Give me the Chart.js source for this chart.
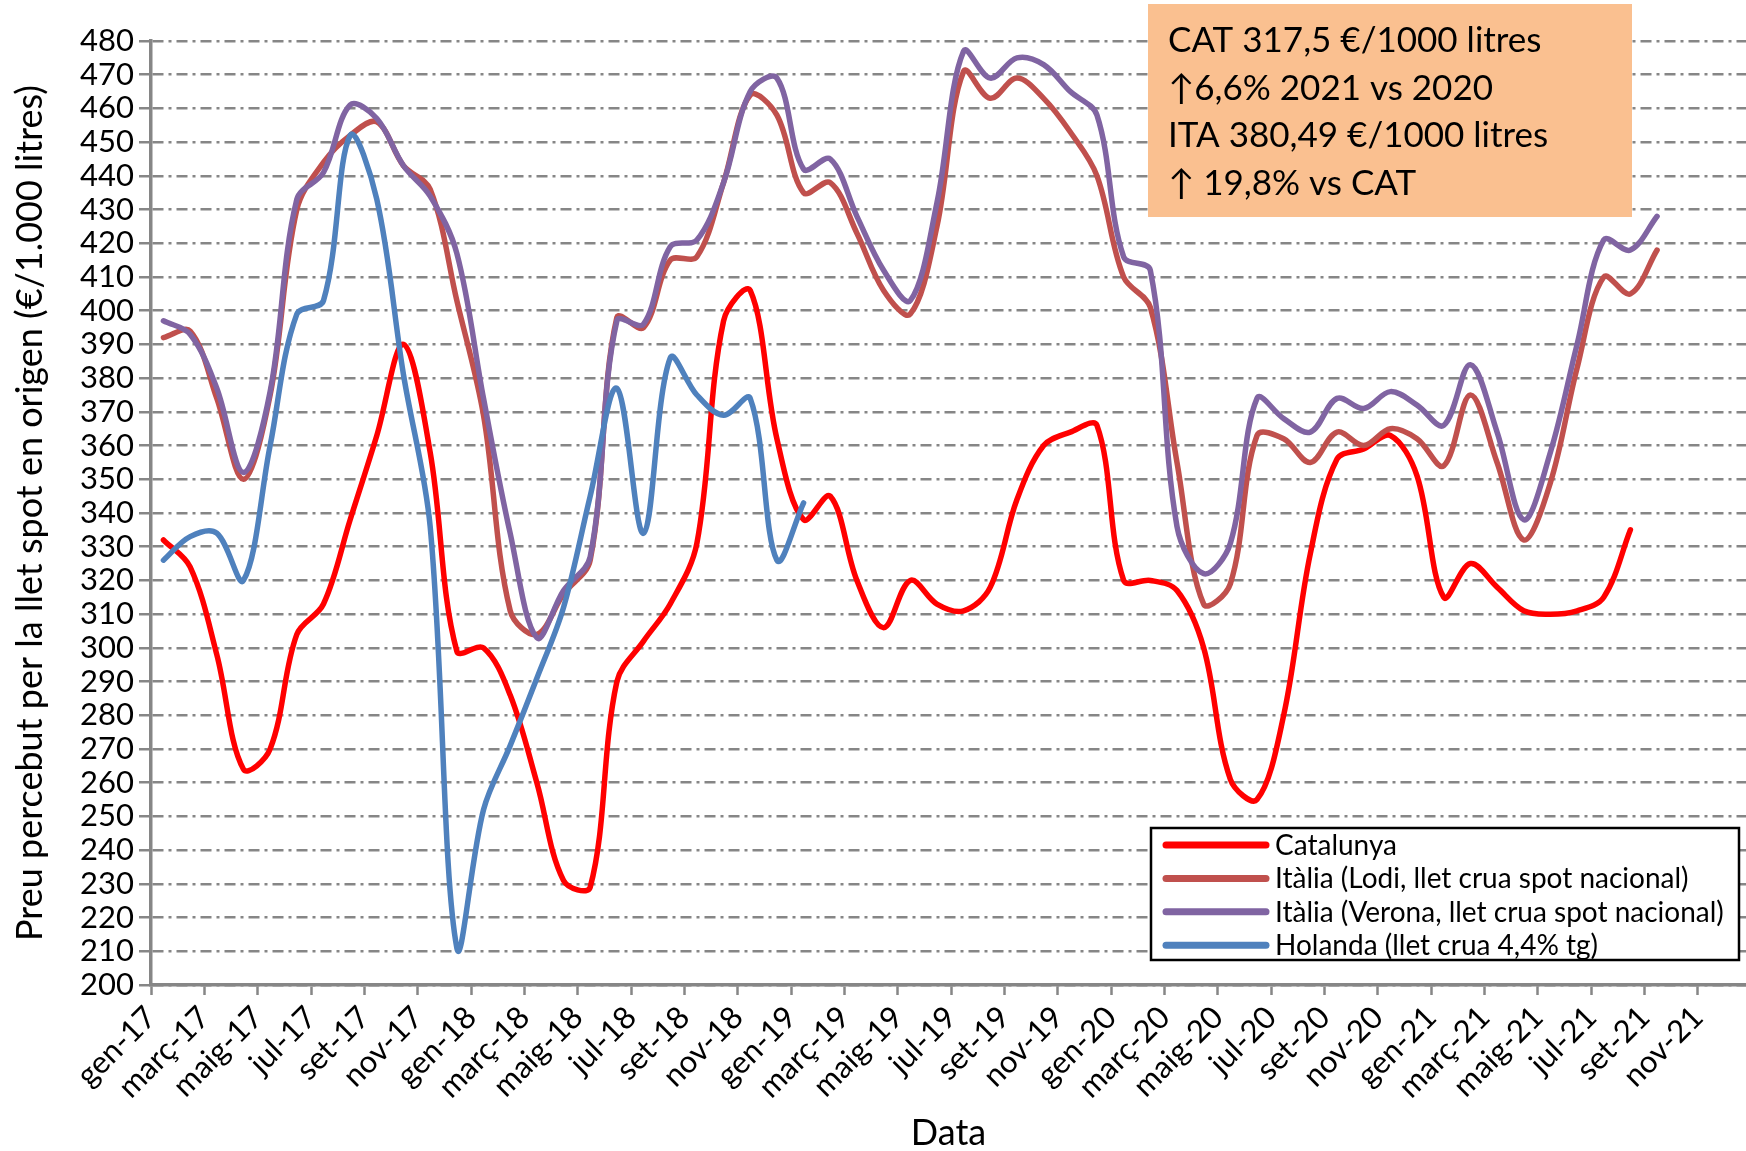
<!DOCTYPE html>
<html>
<head>
<meta charset="utf-8">
<script src="https://cdn.jsdelivr.net/npm/chart.js@4.4.1/dist/chart.umd.min.js"></script>
<style>
html,body{margin:0;padding:0;background:#ffffff;}
canvas{display:block;}
</style>
</head>
<body>
<canvas id="c" width="1746" height="1151"></canvas>
<script>
// ---- categories (one per month, gen-17 .. set-21) ----
const monthLabels = [
  'gen-17','febr-17','març-17','abr-17','maig-17','juny-17','jul-17','ag-17','set-17','oct-17','nov-17','des-17',
  'gen-18','febr-18','març-18','abr-18','maig-18','juny-18','jul-18','ag-18','set-18','oct-18','nov-18','des-18',
  'gen-19','febr-19','març-19','abr-19','maig-19','juny-19','jul-19','ag-19','set-19','oct-19','nov-19','des-19',
  'gen-20','febr-20','març-20','abr-20','maig-20','juny-20','jul-20','ag-20','set-20','oct-20','nov-20','des-20',
  'gen-21','febr-21','març-21','abr-21','maig-21','juny-21','jul-21','ag-21','set-21'
];

// ---- axis tick labels (every two months) ----
const tickLabels = [
  'gen-17','març-17','maig-17','jul-17','set-17','nov-17',
  'gen-18','març-18','maig-18','jul-18','set-18','nov-18',
  'gen-19','març-19','maig-19','jul-19','set-19','nov-19',
  'gen-20','març-20','maig-20','jul-20','set-20','nov-20',
  'gen-21','març-21','maig-21','jul-21','set-21','nov-21'
];

// ---- series values (€/1000 litres) ----
const catalunya = [332,324,298,264,270,304,313,338,363,390,
                   358,299,300,286,260,231,229,290,302,313,
                   331,397,406,362,338,345,320,306,320,313,
                   311,318,344,360,364,366,320,320,317,300,
                   261,255,280,328,356,359,363,351,315,325,
                   318,311,310,311,315,335];
const italiaLodi = [392,394,374,350,375,430,444,452,456,443,
                    436,403,369,311,304,316,326,398,395,415,
                    416,438,464,458,435,438,423,406,399,425,
                    471,463,469,463,453,440,410,401,355,313,
                    319,363,362,355,364,360,365,362,354,375,
                    355,332,349,383,410,405,418];
const italiaVerona = [397,393,377,352,376,433,441,461,457,443,
                      434,417,374,334,303,317,327,397,396,419,
                      421,438,465,469,442,445,428,412,403,432,
                      477,469,475,473,465,458,416,412,336,322,
                      331,374,368,364,374,371,376,372,366,384,
                      364,338,358,390,421,418,428];
const holanda = [326,333,334,320,360,399,403,452,433,381,
                 336,211,252,271,291,312,345,377,334,386,
                 375,369,374,326,343];

const seriesNames = [
  'Catalunya',
  'Itàlia (Lodi, llet crua spot nacional)',
  'Itàlia (Verona, llet crua spot nacional)',
  'Holanda (llet crua 4,4% tg)'
];
const noteLines = [
  'CAT 317,5 €/1000 litres',
  '↑6,6% 2021 vs 2020',
  'ITA 380,49 €/1000 litres',
  '↑ 19,8% vs CAT'
];

// each monthly value sits at mid-month on a month-index axis (gen-17 = 0)
const MID = 14 / 30;
function toPoints(values) {
  return values.map((v, i) => ({ x: monthLabels.indexOf(monthLabels[i]) + MID, y: v }));
}

const FONT = 'Lato, Carlito, "Open Sans", sans-serif';
const GRID = '#868686';

const boxLegend = {
  id: 'boxLegend',
  afterDraw(chart, args, o) {
    const ctx = chart.ctx;
    ctx.save();
    ctx.fillStyle = '#ffffff';
    ctx.fillRect(o.x, o.y, o.w, o.h);
    ctx.lineWidth = 2.5;
    ctx.strokeStyle = '#000000';
    ctx.strokeRect(o.x, o.y, o.w, o.h);
    ctx.font = o.fontSize + 'px ' + FONT;
    ctx.textBaseline = 'middle';
    ctx.textAlign = 'left';
    chart.data.datasets.forEach((ds, i) => {
      const cy = o.y + o.first + i * o.gap;
      ctx.beginPath();
      ctx.strokeStyle = ds.borderColor;
      ctx.lineWidth = 7;
      ctx.lineCap = 'round';
      ctx.moveTo(o.x + o.lineStart, cy);
      ctx.lineTo(o.x + o.lineEnd, cy);
      ctx.stroke();
      ctx.fillStyle = '#000000';
      ctx.fillText(ds.label, o.x + o.textX, cy + 1);
    });
    ctx.restore();
  }
};

const noteBox = {
  id: 'noteBox',
  afterDraw(chart, args, o) {
    const ctx = chart.ctx;
    ctx.save();
    ctx.fillStyle = o.fill;
    ctx.fillRect(o.x, o.y, o.w, o.h);
    ctx.fillStyle = '#000000';
    ctx.font = o.fontSize + 'px ' + FONT;
    ctx.textBaseline = 'middle';
    ctx.textAlign = 'left';
    noteLines.forEach((t, i) => ctx.fillText(t, o.x + o.padX, o.y + o.first + i * o.gap));
    ctx.restore();
  }
};

const colors = ['#FF0000', '#C0504D', '#8064A2', '#4F81BD'];
const values = [catalunya, italiaLodi, italiaVerona, holanda];

new Chart(document.getElementById('c'), {
  type: 'line',
  data: {
    datasets: values.map((vals, i) => ({
      label: seriesNames[i],
      data: toPoints(vals),
      borderColor: colors[i],
      backgroundColor: colors[i],
      borderWidth: 5.5,
      pointRadius: 0,
      pointHoverRadius: 0,
      tension: 0.35,
      fill: false,
      borderCapStyle: 'round',
      borderJoinStyle: 'round',
      order: 4 - i
    }))
  },
  options: {
    responsive: false,
    devicePixelRatio: 1,
    animation: false,
    events: [],
    layout: { padding: { top: 41, right: 0, bottom: 0, left: 0 } },
    plugins: {
      legend: { display: false },
      tooltip: { enabled: false },
      boxLegend: { x: 1151, y: 828, w: 588, h: 132, first: 17, gap: 33.4, lineStart: 15, lineEnd: 115, textX: 124, fontSize: 28 },
      noteBox: { x: 1148, y: 4, w: 484, h: 213, fill: '#FAC090', padX: 20, first: 37, gap: 47.5, fontSize: 35 }
    },
    scales: {
      x: {
        type: 'linear',
        min: 0,
        max: 59.8,
        afterBuildTicks: (axis) => { axis.ticks = tickLabels.map((_, i) => ({ value: i * 2 })); },
        afterFit: (s) => { s.height = 166; s.paddingLeft = 0; s.paddingRight = 0; },
        ticks: {
          autoSkip: false,
          minRotation: 45,
          maxRotation: 45,
          padding: 4,
          color: '#000000',
          font: { family: FONT, size: 31 },
          callback: (v) => tickLabels[Math.round(v / 2)]
        },
        grid: { display: true, drawOnChartArea: false, drawTicks: true, tickLength: 10, tickColor: GRID, tickWidth: 2.5 },
        border: { display: true, color: GRID, width: 3.5 },
        title: { display: true, text: 'Data', color: '#000000', font: { family: FONT, size: 36, lineHeight: 1 }, padding: { top: 0, bottom: 0 } }
      },
      y: {
        min: 200,
        max: 480,
        afterFit: (s) => { s.width = 151; s.paddingTop = 0; s.paddingBottom = 0; },
        ticks: {
          stepSize: 10,
          autoSkip: false,
          padding: 5,
          color: '#000000',
          font: { family: FONT, size: 31 }
        },
        grid: {
          color: GRID,
          lineWidth: 2.5,
          tickLength: 12,
          tickColor: GRID,
          tickWidth: 2.5,
          tickBorderDash: []
        },
        border: { display: true, color: GRID, width: 3.5, dash: [11, 5, 3, 5] },
        title: {
          display: true,
          text: 'Preu percebut per la llet spot en origen (€/1.000 litres)',
          color: '#000000',
          font: { family: FONT, size: 36, lineHeight: 1.2 },
          padding: { top: 9, bottom: 0 }
        }
      }
    }
  },
  plugins: [boxLegend, noteBox]
});
</script>
</body>
</html>
